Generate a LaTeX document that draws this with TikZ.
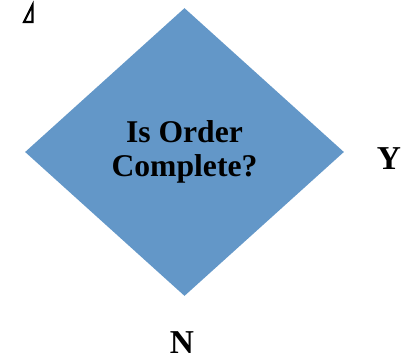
\documentclass[tikz,border=0pt]{standalone}
\usepackage{fontspec}
\setmainfont{Liberation Serif}
\usepackage{tikz}
\usetikzlibrary{positioning, shapes.geometric}
\definecolor{decblue}{RGB}{99,151,200}

\begin{document}
\begin{tikzpicture}[
    decision/.style={diamond, fill=decblue, draw=none, inner sep=0pt, minimum width=6.38cm, minimum height=5.76cm, align=center, font=\fontsize{18}{19.5}\selectfont\bfseries},
    answer/.style={font=\fontsize{19}{22}\selectfont\bfseries}
]
    \useasboundingbox (0,0) rectangle (8.08,-7.18);

    % anchor mark
    \draw[line width=1.2pt, line join=miter] (0.48,-0.44) -- (0.65,-0.10) -- (0.65,-0.44) -- cycle;

    % Decision
    \node[decision] (order_done) at (3.69, -3.04) {Is Order\\Complete?};

    % Branch labels
    \node[answer] (yes_lbl) at (7.78, -3.18) {Y};
    \node[answer] (no_lbl) at (3.64, -6.86) {N};
\end{tikzpicture}
\end{document}
